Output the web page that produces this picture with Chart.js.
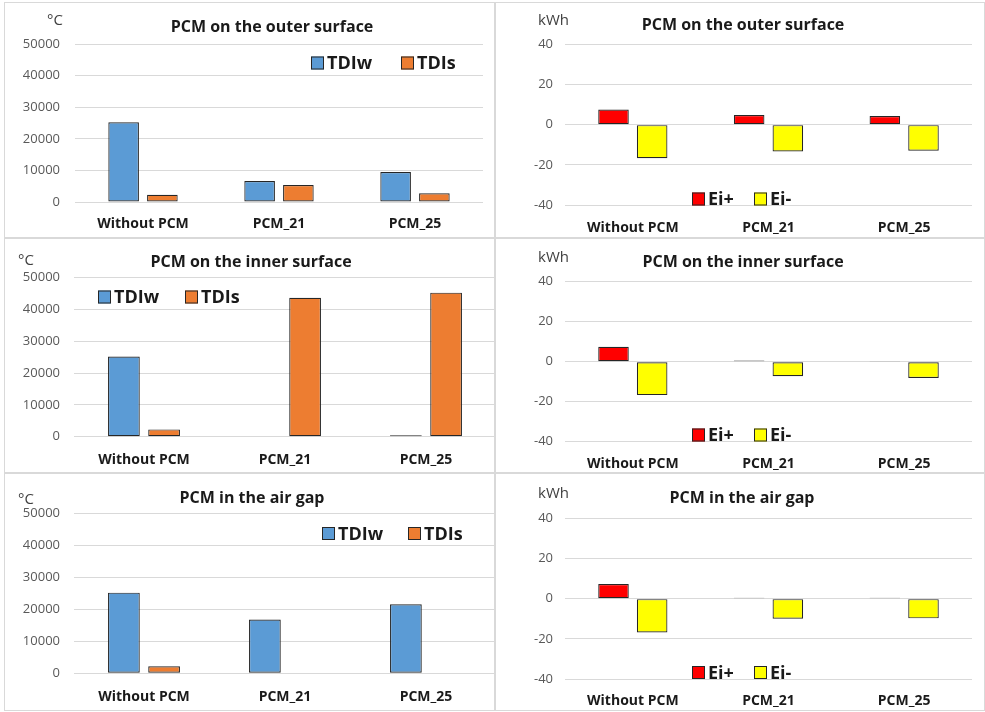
<!DOCTYPE html>
<html>
<head>
<meta charset="utf-8">
<script src="https://cdn.jsdelivr.net/npm/chart.js@4.4.1/dist/chart.umd.min.js"></script>
<style>
  body { margin: 0; background: #fff; width: 985px; height: 712px; position: relative; overflow: hidden; }
  .panel { position: absolute; box-sizing: border-box; border: 1px solid #d9d9d9; overflow: hidden; background: #fff; }
  .panel canvas { position: absolute; left: 0; top: 0; }
</style>
</head>
<body>
<div class="panel" style="left:4px;top:2px;width:491px;height:236px"><canvas id="outerTdi" width="489" height="234"></canvas></div>
<div class="panel" style="left:495px;top:2px;width:490px;height:236px"><canvas id="outerEi" width="488" height="234"></canvas></div>
<div class="panel" style="left:4px;top:238px;width:491px;height:235px"><canvas id="innerTdi" width="500" height="233"></canvas></div>
<div class="panel" style="left:495px;top:238px;width:490px;height:235px"><canvas id="innerEi" width="488" height="233"></canvas></div>
<div class="panel" style="left:4px;top:473px;width:491px;height:238px"><canvas id="airTdi" width="500" height="236"></canvas></div>
<div class="panel" style="left:495px;top:473px;width:490px;height:238px"><canvas id="airEi" width="488" height="236"></canvas></div>

<script>
// categories and values
const categories = ["Without PCM", "PCM_21", "PCM_25"]

const outerTDIw = [25200, 6650, 9500]
const outerTDIs = [2300, 5400, 2750]
const innerTDIw = [25200, 0, 450]
const innerTDIs = [2300, 43700, 45300]
const airTDIw = [25200, 16800, 21600]
const airTDIs = [2200, 0, 0]

const outerEiPlus = [7.5, 4.8, 4.3]
const outerEiMinus = [-16.7, -13.4, -13.0]
const innerEiPlus = [7.5, 0.6, 0.3]
const innerEiMinus = [-16.7, -7.3, -8.1]
const airEiPlus = [7.3, 0.4, 0.4]
const airEiMinus = [-16.8, -10.0, -9.8]

const tdiTicks = { min: 0, max: 50000, step: 10000 }
const eiTicks = { min: -40, max: 40, step: 20 }

const COLORS = { TDIw: "#5B9BD5", TDIs: "#ED7D31", "Ei+": "#FF0000", "Ei-": "#FFFF00" }
const FONT = '"Open Sans", sans-serif'

Chart.defaults.font.family = FONT
Chart.defaults.animation = false

// title, unit and legend are drawn by hand, Excel-style (legend floats over the plot)
const panelDecor = {
  id: "panelDecor",
  afterDraw(chart, args, opts) {
    const ctx = chart.ctx
    ctx.save()
    ctx.textBaseline = "middle"

    ctx.font = "bold 16px " + FONT
    ctx.fillStyle = "#1a1a1a"
    ctx.textAlign = "center"
    ctx.fillText(opts.title, opts.titleX, opts.titleY)

    ctx.font = "15px " + FONT
    ctx.fillStyle = "#404040"
    ctx.textAlign = "left"
    ctx.fillText(opts.unit, opts.unitX, opts.unitY)

    ctx.font = "bold 18px " + FONT
    chart.data.datasets.forEach((ds, i) => {
      const x = opts.legendX[i]
      const y = opts.legendY
      ctx.fillStyle = ds.backgroundColor
      ctx.fillRect(x, y - 6.5, 13, 13)
      ctx.strokeStyle = "#262626"
      ctx.lineWidth = 1
      ctx.strokeRect(x + 0.5, y - 6, 12, 12)
      ctx.fillStyle = "#1a1a1a"
      ctx.fillText(ds.label, x + 16, y + 1)
    })
    ctx.restore()
  }
}

function makeChart(id, series, ticks, box, decor) {
  const canvas = document.getElementById(id)
  const w = canvas.width
  const h = canvas.height
  const xAxisH = 30

  return new Chart(canvas, {
    type: "bar",
    data: {
      labels: categories,
      datasets: series.map(s => ({
        label: s.label,
        data: s.data,
        backgroundColor: COLORS[s.label],
        borderColor: "#262626",
        borderWidth: 1.2,
        borderSkipped: false,
        categoryPercentage: 0.57,
        barPercentage: 0.79
      }))
    },
    options: {
      responsive: false,
      devicePixelRatio: 1,
      layout: {
        padding: { left: 0, top: box.top, right: w - box.right, bottom: h - box.bottom - xAxisH }
      },
      plugins: {
        legend: { display: false },
        tooltip: { enabled: false },
        panelDecor: decor
      },
      scales: {
        x: {
          grid: { display: false, drawTicks: false },
          border: { display: false },
          ticks: { color: "#1a1a1a", font: { size: 14, weight: "bold" }, padding: box.labelGap, maxRotation: 0 },
          afterFit: scale => { scale.height = xAxisH }
        },
        y: {
          min: ticks.min,
          max: ticks.max,
          grid: { color: "#d9d9d9", lineWidth: 1, drawTicks: false },
          border: { display: false },
          ticks: { stepSize: ticks.step, color: "#595959", font: { size: 13 }, padding: box.tickGap, callback: v => String(v) },
          afterFit: scale => { scale.width = box.left }
        }
      }
    },
    plugins: [panelDecor]
  })
}

makeChart("outerTdi",
  [{ label: "TDIw", data: outerTDIw }, { label: "TDIs", data: outerTDIs }],
  tdiTicks,
  { left: 70, right: 478, top: 41, bottom: 199, labelGap: 14, tickGap: 15 },
  { title: "PCM on the outer surface", titleX: 267, titleY: 24, unit: "°C", unitX: 42, unitY: 18, legendX: [306, 396], legendY: 60 })

makeChart("outerEi",
  [{ label: "Ei+", data: outerEiPlus }, { label: "Ei-", data: outerEiMinus }],
  eiTicks,
  { left: 69, right: 476, top: 41.3, bottom: 202, labelGap: 15, tickGap: 12 },
  { title: "PCM on the outer surface", titleX: 247, titleY: 22, unit: "kWh", unitX: 42, unitY: 18, legendX: [196, 258], legendY: 196 })

makeChart("innerTdi",
  [{ label: "TDIw", data: innerTDIw }, { label: "TDIs", data: innerTDIs }],
  tdiTicks,
  { left: 68.5, right: 491.5, top: 38.7, bottom: 197.7, labelGap: 15, tickGap: 13.5 },
  { title: "PCM on the inner surface", titleX: 246, titleY: 23, unit: "°C", unitX: 13, unitY: 22, legendX: [93, 180], legendY: 58 })

makeChart("innerEi",
  [{ label: "Ei+", data: innerEiPlus }, { label: "Ei-", data: innerEiMinus }],
  eiTicks,
  { left: 69, right: 476, top: 42.7, bottom: 202.7, labelGap: 14, tickGap: 12 },
  { title: "PCM on the inner surface", titleX: 247, titleY: 23, unit: "kWh", unitX: 42, unitY: 18.5, legendX: [196, 258], legendY: 196 })

makeChart("airTdi",
  [{ label: "TDIw", data: airTDIw }, { label: "TDIs", data: airTDIs }],
  tdiTicks,
  { left: 68.5, right: 491.5, top: 39.3, bottom: 199.3, labelGap: 15, tickGap: 13.5 },
  { title: "PCM in the air gap", titleX: 247, titleY: 24, unit: "°C", unitX: 13, unitY: 26, legendX: [317, 403], legendY: 59.5 })

makeChart("airEi",
  [{ label: "Ei+", data: airEiPlus }, { label: "Ei-", data: airEiMinus }],
  eiTicks,
  { left: 69, right: 476, top: 44.3, bottom: 205, labelGap: 14, tickGap: 12 },
  { title: "PCM in the air gap", titleX: 246, titleY: 24, unit: "kWh", unitX: 42, unitY: 20, legendX: [196, 258], legendY: 198.5 })
</script>
</body>
</html>
